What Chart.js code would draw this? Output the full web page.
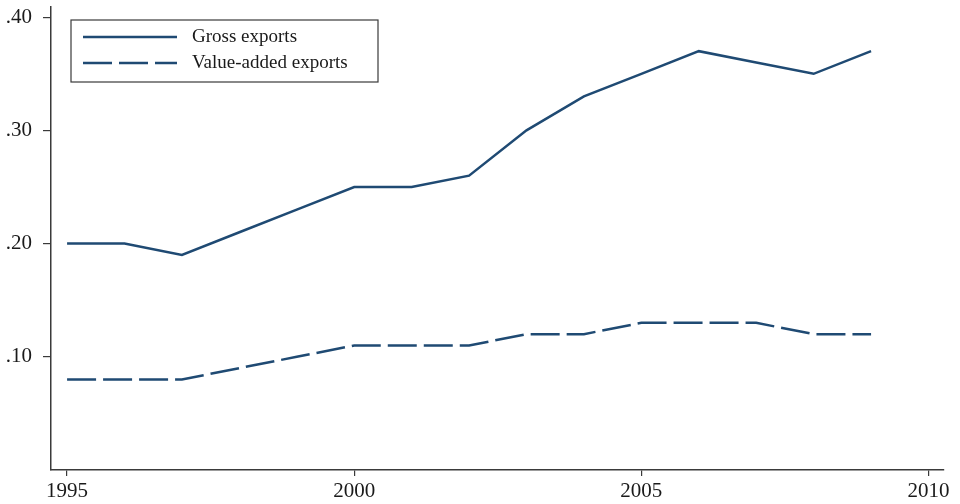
<!DOCTYPE html>
<html>
<head>
<meta charset="utf-8">
<script src="https://cdn.jsdelivr.net/npm/chart.js@4/dist/chart.umd.min.js"></script>
<style>
  html, body { margin: 0; padding: 0; background: #fff; }
  #wrap { width: 960px; height: 504px; }
</style>
</head>
<body>
<div id="wrap"><canvas id="exportsChart" width="960" height="504"></canvas></div>
<script>
// data
const years = [1995, 1996, 1997, 1998, 1999, 2000, 2001, 2002, 2003, 2004, 2005, 2006, 2007, 2008, 2009];
const grossExports = [0.20, 0.20, 0.19, 0.21, 0.23, 0.25, 0.25, 0.26, 0.30, 0.33, 0.35, 0.37, 0.36, 0.35, 0.37];
const valueAddedExports = [0.08, 0.08, 0.08, 0.09, 0.10, 0.11, 0.11, 0.11, 0.12, 0.12, 0.13, 0.13, 0.13, 0.12, 0.12];
const xTicks = [1995, 2000, 2005, 2010];
const yTicks = [0.10, 0.20, 0.30, 0.40];

const lineColor = "#1f4a73";
const axisColor = "#3a3a3a";
const serif = "'Liberation Serif', serif";

function toPoints(values) {
    return years.map((yr, i) => ({ x: yr, y: values[i] }));
}

// keep the plot area where the original has it
function noPad(axis) {
    axis.paddingTop = 0;
    axis.paddingBottom = 0;
    axis.paddingLeft = 0;
    axis.paddingRight = 0;
}

// legend with a box, drawn inside the plot area
const boxLegend = {
    id: "boxLegend",
    afterDraw(chart) {
        const ctx = chart.ctx;
        const area = chart.chartArea;
        const x0 = area.left + 20, y0 = area.top + 13;
        const w = 307, h = 62;
        ctx.save();
        ctx.fillStyle = "#fff";
        ctx.fillRect(x0, y0, w, h);
        ctx.strokeStyle = axisColor;
        ctx.lineWidth = 1.2;
        ctx.strokeRect(x0, y0, w, h);
        chart.data.datasets.forEach((ds, i) => {
            const ly = y0 + 17 + i * 26;
            ctx.beginPath();
            ctx.setLineDash(ds.borderDash || []);
            ctx.strokeStyle = ds.borderColor;
            ctx.lineWidth = ds.borderWidth;
            ctx.moveTo(x0 + 12, ly);
            ctx.lineTo(x0 + 106, ly);
            ctx.stroke();
            ctx.setLineDash([]);
            ctx.fillStyle = "#1a1a1a";
            ctx.font = "19px " + serif;
            ctx.textBaseline = "middle";
            ctx.fillText(ds.label, x0 + 121, ly);
        });
        ctx.restore();
    }
};

const config = {
    type: "line",
    data: {
        datasets: [
            {
                label: "Gross exports",
                data: toPoints(grossExports),
                borderColor: lineColor,
                borderWidth: 2.5,
                pointRadius: 0,
                tension: 0
            },
            {
                label: "Value-added exports",
                data: toPoints(valueAddedExports),
                borderColor: lineColor,
                borderWidth: 2.5,
                borderDash: [29, 7],
                pointRadius: 0,
                tension: 0
            }
        ]
    },
    options: {
        responsive: false,
        animation: false,
        layout: { padding: { top: 7, right: 16, left: 0, bottom: 0 } },
        plugins: {
            legend: { display: false },
            tooltip: { enabled: false }
        },
        scales: {
            x: {
                type: "linear",
                min: 1994.72,
                max: 2010.27,
                afterBuildTicks: (axis) => { axis.ticks = xTicks.map(v => ({ value: v })); },
                afterFit: (axis) => { axis.height = 34; noPad(axis); },
                grid: { drawOnChartArea: false, drawTicks: true, tickLength: 6, color: axisColor, lineWidth: 1.2 },
                border: { color: axisColor, width: 1.5 },
                ticks: {
                    color: "#1a1a1a",
                    font: { family: serif, size: 21 },
                    padding: 3,
                    maxRotation: 0,
                    callback: (v) => String(v)
                }
            },
            y: {
                min: 0,
                max: 0.409,
                afterBuildTicks: (axis) => { axis.ticks = yTicks.map(v => ({ value: v })); },
                afterFit: (axis) => { axis.width = 51; noPad(axis); },
                grid: { drawOnChartArea: false, drawTicks: true, tickLength: 8, color: axisColor, lineWidth: 1.2 },
                border: { color: axisColor, width: 1.5 },
                ticks: {
                    color: "#1a1a1a",
                    font: { family: serif, size: 21 },
                    padding: 11,
                    callback: (v) => v.toFixed(2).replace(/^0/, "")
                }
            }
        }
    },
    plugins: [boxLegend]
};

const exportsChart = new Chart(document.getElementById("exportsChart").getContext("2d"), config);
</script>
</body>
</html>
